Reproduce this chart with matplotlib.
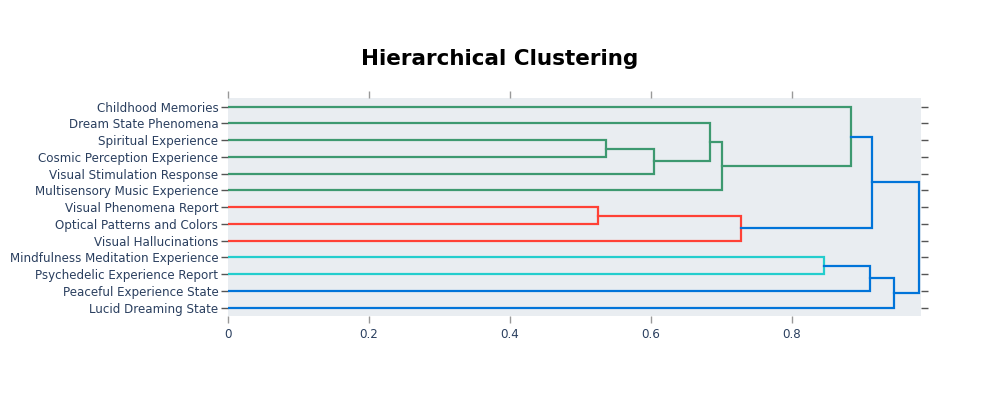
import matplotlib.pyplot as plt

labels = ['Childhood Memories', 'Dream State Phenomena', 'Spiritual Experience',
          'Cosmic Perception Experience', 'Visual Stimulation Response',
          'Multisensory Music Experience', 'Visual Phenomena Report',
          'Optical Patterns and Colors', 'Visual Hallucinations',
          'Mindfulness Meditation Experience', 'Psychedelic Experience Report',
          'Peaceful Experience State', 'Lucid Dreaming State']

# merges: node ids 0..12 are leaves, each merge creates a new node (13, 14, ...)
merge_a = [2, 13, 1, 15, 0, 6, 18, 17, 9, 21, 22, 20]
merge_b = [3, 4, 14, 5, 16, 7, 8, 19, 10, 11, 12, 23]
heights = [0.536, 0.6045, 0.683, 0.701, 0.884, 0.525, 0.728, 0.913, 0.846, 0.911, 0.944, 0.980]
groups = ['g', 'g', 'g', 'g', 'g', 'r', 'r', 'b', 'c', 'b', 'b', 'b']

colors = {'g': 'rgb(61,153,112)', 'r': 'rgb(255,65,54)',
          'c': 'rgb(35,205,205)', 'b': 'rgb(0,116,217)'}
colors = {k: tuple(int(v) / 255 for v in c[4:-1].split(',')) for k, c in colors.items()}

fig = plt.figure(figsize=(10, 3.95), dpi=100)
ax = fig.add_axes([0.228, 0.2, 0.693, 0.551])
ax.set_facecolor('#E9EDF1')

node_x = [0.0] * len(labels)
node_y = list(range(len(labels)))
for a, b, h, g in zip(merge_a, merge_b, heights, groups):
    xs = [node_x[a], h, h, node_x[b]]
    ys = [node_y[a], node_y[a], node_y[b], node_y[b]]
    ax.plot(xs, ys, color=colors[g], lw=1.6, solid_joinstyle='miter', zorder=3)
    node_x.append(h)
    node_y.append((node_y[a] + node_y[b]) / 2)

ax.set_xlim(0, 0.983)
ax.set_ylim(12.5, -0.5)
ax.set_yticks(range(len(labels)))
ax.set_yticklabels(labels)
ax.set_xticks([0, 0.2, 0.4, 0.6, 0.8])
ax.set_xticklabels(['0', '0.2', '0.4', '0.6', '0.8'])

for s in ax.spines.values():
    s.set_visible(False)

ax.tick_params(axis='x', which='both', top=True, bottom=True, direction='out',
               length=5, width=1, color='#999999', labelsize=8.6,
               labelcolor='#2a3f5f', pad=4)
ax.tick_params(axis='y', which='both', left=True, right=True, direction='out',
               length=5, width=1, color='#555555', labelsize=8.6,
               labelcolor='#2a3f5f', pad=2)

fig.text(0.5, 1 - 65 / 395, 'Hierarchical Clustering', ha='center', va='baseline',
         fontsize=15.5, fontweight='bold', color='black')

fig.savefig('out.png', dpi=100, facecolor='white')
